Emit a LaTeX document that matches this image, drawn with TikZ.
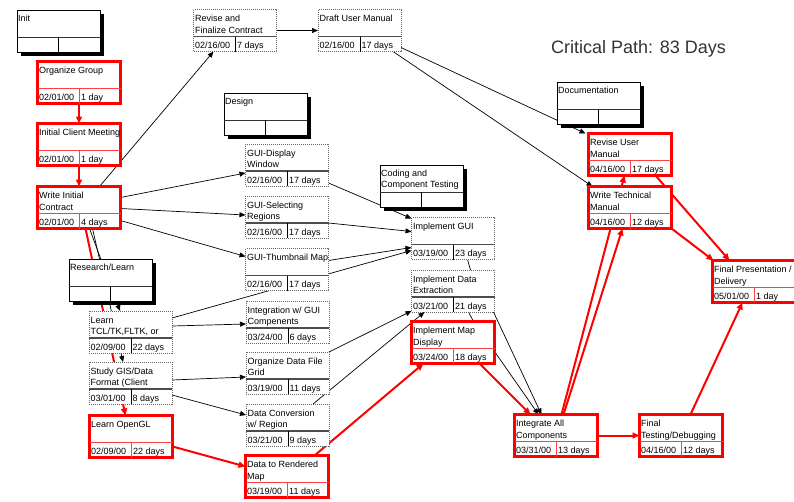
\documentclass[tikz,border=0pt]{standalone}
\usepackage{fontspec}
\setmainfont{Liberation Sans}
\usetikzlibrary{calc,arrows.meta,shadows}
\pgfdeclarelayer{bg}
\pgfsetlayers{bg,main}
\tikzset{
 boxbase/.style={rectangle, minimum width=83pt, minimum height=42pt, inner sep=0pt, outer sep=0pt, fill=white, anchor=north west},
 critbox/.style={boxbase, draw=red, line width=2.6pt},
 dotbox/.style={boxbase, draw=black!60, line width=0.8pt, dash pattern=on 1pt off 1pt},
 sumbox/.style={boxbase, draw=black, line width=0.8pt, drop shadow={shadow xshift=3.5pt, shadow yshift=-3.5pt, fill=black, opacity=1}},
 critdivh/.style={draw=red!75, line width=0.8pt},
 critdivv/.style={draw=red!75, line width=0.8pt},
 dotdivh/.style={draw=black!70, line width=1.4pt},
 dotdivv/.style={draw=black, line width=0.7pt},
 sumdivh/.style={draw=black!80, line width=0.8pt},
 sumdivv/.style={draw=black, line width=0.8pt},
 ttl/.style={inner sep=0pt, anchor=north west, align=left, font=\fontsize{9}{11.5}\selectfont},
 cell/.style={inner sep=0pt, anchor=base west, font=\fontsize{9}{11.5}\selectfont},
 lnk/.style={draw=black, line width=0.7pt, -{Triangle[length=6pt,width=5pt]}},
 lnkplain/.style={draw=black, line width=0.7pt},
 critlnk/.style={draw=red, line width=2pt, -{Triangle[length=7pt,width=6pt]}},
}
\newcommand{\taskbox}[7]{%
 \node[#2box] (#1) at (#3,#4) {};
 \draw[#2divh] ($(#1.south west)+(0,-15)$) -- ($(#1.south east)+(0,-15)$);
 \draw[#2divv] ($(#1.south west)+(42,0)$) -- ($(#1.south west)+(42,-15)$);
 \node[ttl] (#1-t) at ($(#1.north west)+(1.5,5)$) {\rule{0pt}{7pt}#5};
 \node[cell] (#1-d) at ($(#1.south west)+(1.5,-3)$) {#6};
 \node[cell] (#1-u) at ($(#1.south west)+(43.5,-3)$) {#7};
}
\newcommand{\summarybox}[4]{%
 \node[sumbox] (#1) at (#2,#3) {};
 \draw[sumdivh] ($(#1.south west)+(0,-15)$) -- ($(#1.south east)+(0,-15)$);
 \draw[sumdivv] ($(#1.south west)+(41,0)$) -- ($(#1.south west)+(41,-15)$);
 \node[ttl] (#1-t) at ($(#1.north west)+(1,4)$) {\rule{0pt}{7pt}#4};
}
\begin{document}
\begin{tikzpicture}[x=1pt,y=-1pt]
\useasboundingbox (0,0) rectangle (794,501);
% summary boxes
\summarybox{init}{17}{10}{Init}
\summarybox{design}{224}{93}{Design}
\summarybox{research}{69}{259}{Research/Learn}
\summarybox{coding}{380}{165}{Coding and\\Component Testing}
\summarybox{doc}{557}{82}{Documentation}
% tasks
\taskbox{og}{crit}{37.5}{61.5}{Organize Group}{02/01/00}{1 day}
\taskbox{icm}{crit}{37.5}{123.5}{Initial Client Meeting}{02/01/00}{1 day}
\taskbox{wic}{crit}{37.5}{186.5}{Write Initial\\Contract}{02/01/00}{4 days}
\taskbox{rfc}{dot}{193.5}{9.5}{Revise and\\Finalize Contract}{02/16/00}{7 days}
\taskbox{dum}{dot}{318}{9.5}{Draft User Manual}{02/16/00}{17 days}
\taskbox{gdw}{dot}{245.5}{144}{GUI-Display\\Window}{02/16/00}{17 days}
\taskbox{gsr}{dot}{245.5}{196}{GUI-Selecting\\Regions}{02/16/00}{17 days}
\taskbox{gtm}{dot}{245.5}{248.5}{GUI-Thumbnail Map}{02/16/00}{17 days}
\taskbox{igc}{dot}{246}{301}{Integration w/ GUI\\Compenents}{03/24/00}{6 days}
\taskbox{odf}{dot}{246}{352}{Organize Data File\\Grid}{03/19/00}{11 days}
\taskbox{dcr}{dot}{246}{404}{Data Conversion\\w/ Region}{03/21/00}{9 days}
\taskbox{ltk}{dot}{89}{311}{Learn\\TCL/TK,FLTK, or}{02/09/00}{22 days}
\taskbox{sgis}{dot}{89}{362}{Study GIS/Data\\Format (Client}{03/01/00}{8 days}
\taskbox{logl}{crit}{89.5}{415.5}{Learn OpenGL}{02/09/00}{22 days}
\taskbox{drm}{crit}{245.5}{455.5}{Data to Rendered\\Map}{03/19/00}{11 days}
\taskbox{igui}{dot}{411.5}{217.5}{Implement GUI}{03/19/00}{23 days}
\taskbox{ide}{dot}{411.5}{270}{Implement Data\\Extraction}{03/21/00}{21 days}
\taskbox{imd}{crit}{411.5}{321.5}{Implement Map\\Display}{03/24/00}{18 days}
\taskbox{iac}{crit}{514.5}{414.5}{Integrate All\\Components}{03/31/00}{13 days}
\taskbox{ft}{crit}{639.5}{414.5}{Final\\Testing/Debugging}{04/16/00}{12 days}
\taskbox{rum}{crit}{588.5}{133.5}{Revise User\\Manual}{04/16/00}{17 days}
\taskbox{wtm}{crit}{588.5}{186.5}{Write Technical\\Manual}{04/16/00}{12 days}
\taskbox{fp}{crit}{712.5}{260.5}{Final Presentation /\\Delivery}{05/01/00}{1 day}
\node[anchor=base west, inner sep=0pt, font=\fontsize{18}{20}\selectfont, text=black!80] (cp) at (551,53) {Critical Path: 83 Days};
% connectors
\begin{pgfonlayer}{bg}
\fill[white] (0,0) rectangle (794,501);
\draw[critlnk] (og.south) -- (icm.north);
\draw[critlnk] (icm.south) -- (wic.north);
\draw[lnk] ($(wic.north west)+(62,0)$) -- ($(rfc.south west)+(20,0)$);
\draw[lnk] (rfc.east) -- (dum.west);
\draw[lnk] ($(dum.north east)+(0,38)$) -- ($(rum.north west)+(-3,0)$);
\draw[lnk] ($(dum.south east)+(-8,0)$) -- ($(wtm.north west)+(4,0)$);
\draw[lnk] ($(wic.north east)+(0,11)$) -- ($(gdw.north west)+(0,29)$);
\draw[lnk] ($(wic.north east)+(0,22)$) -- ($(gsr.north west)+(0,19)$);
\draw[lnk] ($(wic.north east)+(0,34)$) -- ($(gtm.north west)+(0,8)$);
\draw[lnk] ($(wic.south west)+(52,0)$) -- ($(ltk.north west)+(31,0)$);
\draw[lnk] ($(wic.south west)+(55,0)$) -- ($(sgis.north west)+(34,0)$);
\draw[critlnk] ($(wic.south west)+(48,0)$) -- ($(logl.north west)+(36,0)$);
\draw[lnk] ($(ltk.north east)+(0,7)$) -- ($(igui.north west)+(0,33)$);
\draw[lnk] ($(ltk.north east)+(0,15)$) -- ($(igc.north west)+(0,23)$);
\draw[lnk] ($(gdw.south east)+(0,-3)$) -- ($(igui.north west)+(0,1)$);
\draw[lnk] ($(gsr.north east)+(0,27)$) -- ($(igui.north west)+(0,14)$);
\draw[lnk] ($(gtm.north east)+(0,12)$) -- ($(igui.north west)+(0,30)$);
\draw[lnk] ($(sgis.north east)+(0,18)$) -- ($(odf.north west)+(0,25)$);
\draw[lnk] ($(sgis.north east)+(0,33)$) -- ($(dcr.north west)+(0,11)$);
\draw[critlnk] ($(logl.north east)+(0,31)$) -- ($(drm.north west)+(0,11)$);
\draw[critlnk] ($(drm.north east)+(-14,0)$) -- ($(imd.south west)+(12,0)$);
\draw[lnk] (odf.north east) -- ($(ide.south west)+(0,-1)$);
\draw[lnk] ($(dcr.north east)+(-16,0)$) -- ($(ide.south west)+(13,0)$);
\draw[lnkplain] ($(igui.south west)+(56,0)$) -- ($(ide.north west)+(59,0)$);
\draw[lnkplain] ($(ide.south west)+(57,0)$) -- ($(imd.north west)+(62,0)$);
\draw[lnk] ($(ide.south east)+(-1,0)$) -- ($(iac.north west)+(27,0)$);
\draw[lnk] ($(imd.north east)+(0,30)$) -- ($(iac.north west)+(24,0)$);
\draw[critlnk] ($(imd.south west)+(68,0)$) -- ($(iac.north west)+(16,0)$);
\draw[critlnk] (iac.east) -- (ft.west);
\draw[critlnk] ($(iac.north west)+(49,0)$) -- ($(wtm.south west)+(34,0)$);
\draw[critlnk] ($(iac.north west)+(47,0)$) -- ($(rum.south west)+(36,0)$);
\draw[critlnk] ($(rum.south east)+(-16,0)$) -- ($(fp.north west)+(17,0)$);
\draw[critlnk] (wtm.south east) -- ($(fp.north west)+(1,0)$);
\draw[critlnk] ($(ft.north west)+(51,0)$) -- ($(fp.south west)+(30,0)$);
\end{pgfonlayer}
\end{tikzpicture}
\end{document}
